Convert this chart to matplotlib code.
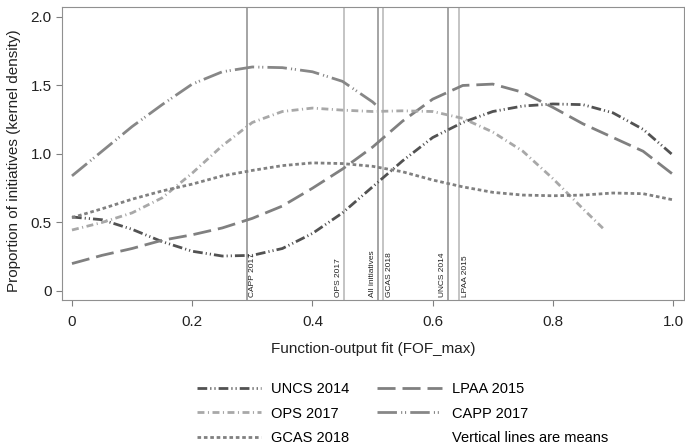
import matplotlib
matplotlib.use("Agg")
import matplotlib.pyplot as plt
from matplotlib.lines import Line2D

plt.rcParams['font.family'] = ['Liberation Sans', 'DejaVu Sans']
plt.rcParams['lines.scale_dashes'] = False

# grid of FOF_max values where the curves were read
x_grid = [0, 0.05, 0.1, 0.15, 0.2, 0.25, 0.3, 0.35, 0.4, 0.45, 0.5,
          0.55, 0.6, 0.65, 0.7, 0.75, 0.8, 0.85, 0.9, 0.95, 1.0]

uncs_2014 = [0.54, 0.52, 0.45, 0.36, 0.29, 0.255, 0.26, 0.31, 0.42, 0.57, 0.76,
             0.95, 1.12, 1.23, 1.31, 1.35, 1.365, 1.36, 1.30, 1.18, 0.99]
lpaa_2015 = [0.20, 0.26, 0.31, 0.37, 0.41, 0.46, 0.53, 0.62, 0.75, 0.89, 1.05,
             1.24, 1.40, 1.50, 1.51, 1.45, 1.34, 1.22, 1.12, 1.02, 0.85]
gcas_2018 = [0.535, 0.60, 0.67, 0.73, 0.78, 0.84, 0.88, 0.915, 0.935, 0.93, 0.91,
             0.87, 0.81, 0.76, 0.72, 0.70, 0.695, 0.70, 0.715, 0.71, 0.665]

ops_x = [0, 0.05, 0.1, 0.15, 0.2, 0.25, 0.3, 0.35, 0.4, 0.45, 0.5,
         0.55, 0.6, 0.65, 0.7, 0.75, 0.8, 0.85, 0.885]
ops_2017 = [0.445, 0.50, 0.57, 0.68, 0.86, 1.06, 1.23, 1.31, 1.335, 1.32, 1.31,
            1.315, 1.31, 1.26, 1.16, 1.02, 0.82, 0.60, 0.45]

capp_x = [0, 0.05, 0.1, 0.15, 0.2, 0.25, 0.3, 0.35, 0.4, 0.45, 0.5, 0.505]
capp_2017 = [0.84, 1.02, 1.20, 1.36, 1.51, 1.60, 1.635, 1.63, 1.60, 1.53, 1.38, 1.36]

# means (vertical lines)
mean_labels = ["CAPP 2017", "OPS 2017", "All initiatives", "GCAS 2018", "UNCS 2014", "LPAA 2015"]
mean_values = [0.291, 0.453, 0.509, 0.518, 0.626, 0.644]
mean_colors = ["#8c8c8c", "#b4b4b4", "#8c8c8c", "#b4b4b4", "#8c8c8c", "#b4b4b4"]
mean_side = ["right", "left", "left", "right", "left", "right"]

fig = plt.figure(figsize=(6.85, 4.44), dpi=100)
ax = fig.add_axes([0.0905, 0.3243, 0.908, 0.660])

for v, lab, c, side in zip(mean_values, mean_labels, mean_colors, mean_side):
    ax.axvline(v, color=c, lw=1.1, zorder=1)
    # text goes on the given side of its line
    if side == "right":
        ax.text(v + 0.004, -0.045, lab, rotation=90, fontsize=6, ha="left",
                va="bottom", color="#222222")
    else:
        ax.text(v - 0.004, -0.045, lab, rotation=90, fontsize=6, ha="right",
                va="bottom", color="#222222")

l1, = ax.plot(x_grid, uncs_2014, color="#525252", lw=2,
              dashes=[7, 2.2, 0.8, 2.2, 0.8, 2.2], label="UNCS 2014")
l2, = ax.plot(x_grid, lpaa_2015, color="#808080", lw=2,
              dashes=[13, 5], label="LPAA 2015")
l3, = ax.plot(ops_x, ops_2017, color="#a8a8a8", lw=2,
              dashes=[5, 2.5, 0.8, 2.5], label="OPS 2017")
l4, = ax.plot(capp_x, capp_2017, color="#878787", lw=2,
              dashes=[14, 3, 0.8, 2, 0.8, 3], label="CAPP 2017")
l5, = ax.plot(x_grid, gcas_2018, color="#808080", lw=2,
              dashes=[2.6, 2], label="GCAS 2018")
blank = Line2D([], [], color="none", label="Vertical lines are means")

ax.set_xlim(-0.0166, 1.018)
ax.set_ylim(-0.066, 2.073)
ax.set_xticks([0, 0.2, 0.4, 0.6, 0.8, 1.0])
ax.set_xticklabels(["0", "0.2", "0.4", "0.6", "0.8", "1.0"])
ax.set_yticks([0, 0.5, 1.0, 1.5, 2.0])
ax.set_yticklabels(["0", "0.5", "1.0", "1.5", "2.0"])
ax.tick_params(direction="out", length=4, color="#808080", labelsize=11,
               labelcolor="#222222")
ax.tick_params(axis="x", pad=7)
for s in ax.spines.values():
    s.set_color("#909090")

ax.set_xlabel("Function-output fit (FOF_max)", fontsize=11, color="#222222",
              labelpad=9)
ax.set_ylabel("Proportion of initiatives (kernel density)", fontsize=11,
              color="#222222")
ax.yaxis.set_label_coords(-0.066, 0.475)

fig.legend(handles=[l1, l3, l5, l2, l4, blank], ncol=2, frameon=False,
           loc="upper left", bbox_to_anchor=(197 / 685, 1 - 382 / 444),
           borderaxespad=0, borderpad=0, fontsize=10.5, handlelength=4.4,
           handletextpad=0.7, columnspacing=1.9, labelspacing=0.72)

plt.savefig("out.png", dpi=100)
